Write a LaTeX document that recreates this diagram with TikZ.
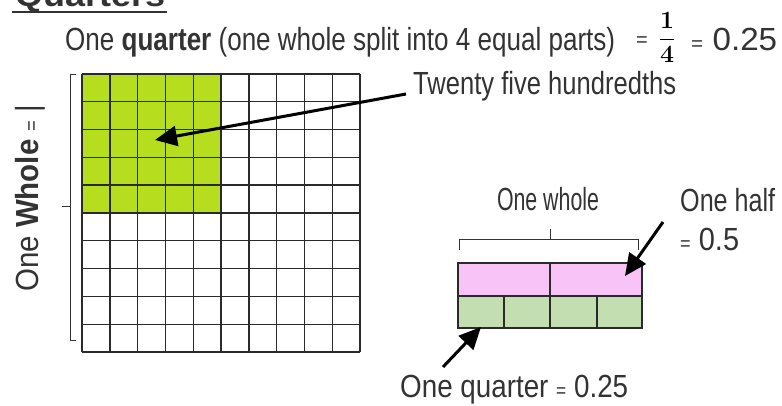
\documentclass[tikz,border=0pt]{standalone}
\usepackage[no-math]{fontspec}
\setmainfont{Liberation Sans}
\usetikzlibrary{arrows.meta}
\newcommand\fitw[2]{\resizebox{#1}{\height}{#2}}
\newcommand\smeq{{\fontsize{20}{22}\selectfont=}}
\definecolor{limefill}{HTML}{B7DD1F}
\definecolor{pinkfill}{HTML}{F8C4F8}
\definecolor{sagefill}{HTML}{C3DFB2}
\definecolor{ink}{HTML}{2A2A2A}
\definecolor{txt}{HTML}{333333}
\begin{document}
\begin{tikzpicture}[x=1pt,y=-1pt,
  hand/.style={inner sep=0pt,text=txt,font=\fontsize{32}{35}\selectfont},
  gridline/.style={draw=ink,line width=1.4pt},
  barline/.style={draw=ink,line width=1.4pt},
  bracketline/.style={draw=txt,line width=1pt},
  bigarrow/.style={draw=black,line width=3pt,-{Triangle[length=22pt,width=20pt]}}]
\useasboundingbox (0,0) rectangle (782,406);
\fill[white] (0,0) rectangle (782,406);
% title (cut off at the top edge, as in the reference)
\node[hand,anchor=base west,font=\fontsize{32}{35}\selectfont\bfseries] (title) at (15,7) {\fitw{150pt}{Quarters}};
\draw[txt,line width=2.5pt] (12,12) -- (167,12);
% top line
\node[hand,anchor=base west] (l1) at (65,51) {\fitw{550pt}{One \textbf{quarter} (one whole split into 4 equal parts)}};
\node[hand,anchor=base,font=\fontsize{20}{22}\selectfont] (eq1) at (642,47) {=};
\node[anchor=base,inner sep=0pt] (frac) at (667,45) {\fontsize{25}{28}\selectfont$\displaystyle\frac{\mathbf{1}}{\mathbf{4}}$};
\node[hand,anchor=base west] (dec) at (691,51) {\fitw{86pt}{\smeq{} 0.25}};
% hundred grid
\fill[limefill] (82,74) rectangle (221,213);
\foreach \i in {0,...,10} {
  \draw[gridline] ({82+\i*27.8},74) -- ({82+\i*27.8},352);
  \draw[gridline] (82,{74+\i*27.8}) -- (360,{74+\i*27.8});
}
% left bracket
\draw[bracketline] (76,75) -- (70,75) -- (70,340) -- (76,340);
\draw[bracketline] (70,207) -- (62,207);
\node[hand,anchor=base west,rotate=90] (whole) at (38,292) {\fitw{187pt}{One \textbf{Whole} \smeq{} |}};
% twenty five hundredths
\node[hand,anchor=base west] (tw) at (413,95) {\fitw{263pt}{Twenty five hundredths}};
\coordinate (twstart) at (406,94);
\coordinate (celltip) at (155,140);
\draw[bigarrow] (twstart) -- (celltip);
% bar model
\fill[pinkfill] (458,263) rectangle (642,296);
\fill[sagefill] (458,296) rectangle (642,328);
\draw[barline] (458,263) rectangle (642,328);
\draw[barline] (458,296) -- (642,296);
\draw[barline] (550,263) -- (550,328);
\draw[barline] (504,296) -- (504,328);
\draw[barline] (597,296) -- (597,328);
% brace
\draw[bracketline] (459,250) -- (459,240) -- (638,240) -- (638,250);
\draw[bracketline] (550,240) -- (550,229);
\node[hand,anchor=base] (ow) at (548,211) {\fitw{102pt}{One whole}};
% one half
\node[hand,anchor=base west] (oh) at (680,212) {\fitw{95pt}{One half}};
\node[hand,anchor=base west] (oh2) at (680,251) {\fitw{59pt}{\smeq{} 0.5}};
\coordinate (halfstart) at (663,222);
\coordinate (halftip) at (625,276);
\draw[bigarrow] (halfstart) -- (halftip);
% one quarter
\node[hand,anchor=base west] (oq) at (400,397) {\fitw{228pt}{One quarter \smeq{} 0.25}};
\coordinate (qstart) at (443,367);
\coordinate (qtip) at (481,327);
\draw[bigarrow] (qstart) -- (qtip);
\end{tikzpicture}
\end{document}
